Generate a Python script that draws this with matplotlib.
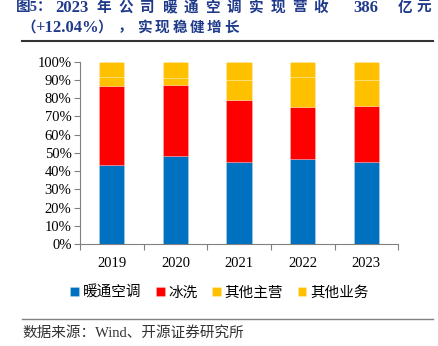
import matplotlib.pyplot as plt
import numpy as np

plt.rcParams['font.family'] = ['Liberation Serif', 'Noto Sans CJK SC']

# 数据 (占比, %)
years = ['2019', '2020', '2021', '2022', '2023']
hvac = [43.6, 48.4, 44.9, 46.7, 45.3]        # 暖通空调
ice_wash = [43.3, 38.6, 34.3, 28.5, 30.4]    # 冰洗
other_main = [4.6, 3.9, 10.6, 16.4, 14.3]    # 其他主营
other_biz = [8.5, 9.1, 10.2, 8.4, 10.0]      # 其他业务

series = [hvac, ice_wash, other_main, other_biz]
names = ['暖通空调', '冰洗', '其他主营', '其他业务']
colors = ['#0070C0', '#FF0000', '#FFC000', '#FFC000']

W, H = 439, 346
fig = plt.figure(figsize=(W / 100, H / 100), dpi=100)
ax = fig.add_axes([0.182, 0.294, 0.725, 0.528])

x = np.arange(len(years))
bottom = np.zeros(len(years))
for vals, name, c in zip(series, names, colors):
    ax.bar(x, vals, 0.4, bottom=bottom, color=c, label=name,
           edgecolor=(1, 1, 1, 0.3), linewidth=0.5)
    bottom += np.array(vals)

ax.set_xlim(-0.5, len(years) - 0.5)
ax.set_ylim(0, 100)
ax.set_yticks(np.arange(0, 101, 10))
ax.set_yticklabels([f'{v}%' for v in range(0, 101, 10)])

# 刻度在类别之间，标签在中间
ax.set_xticks(np.arange(-0.5, len(years), 1))
ax.set_xticklabels([])
ax.set_xticks(x, minor=True)
ax.set_xticklabels(years, minor=True)
ax.tick_params(axis='x', which='minor', length=0, pad=9, labelsize=10.5)
ax.tick_params(axis='x', which='major', length=4, color='#808080')
ax.tick_params(axis='y', length=4, color='#808080', labelsize=10.5, pad=2)

for s in ['top', 'right']:
    ax.spines[s].set_visible(False)
for s in ['left', 'bottom']:
    ax.spines[s].set_color('#808080')

leg = ax.legend(loc='center', ncol=4, frameon=False, fontsize=10.5,
                handlelength=0.6, handleheight=0.6, handletextpad=0.25,
                columnspacing=1.0)
leg.set_bbox_to_anchor((0.5, 1 - 293 / H), transform=fig.transFigure)

# 标题 (两端对齐，逐字放置)
title_color = '#1F3A8A'
line1 = ['图5：', '2023'] + list('年公司暖通空调实现营收') + ['386', '亿', '元']
cx1 = [34, 72] + [104 + 21.7 * i for i in range(11)] + [366, 405, 424]
line2 = ['（', '+12.04%', '）', '，'] + list('实现稳健增长')
cx2 = [29, 67, 105, 125] + [145 + 17.3 * i for i in range(6)]
for toks, cxs, cy in [(line1, cx1, 8), (line2, cx2, 28)]:
    for t, c in zip(toks, cxs):
        fs = 12 if t.isascii() else 10.5
        fig.text(c / W, 1 - cy / H, t, fontsize=fs, fontweight='bold',
                 color=title_color, va='center', ha='center')

fig.add_artist(plt.Line2D([22 / W, 433 / W], [1 - 41 / H, 1 - 41 / H],
                          color='#333333', linewidth=1.5))

# 来源
fig.add_artist(plt.Line2D([22 / W, 433 / W], [1 - 319 / H, 1 - 319 / H],
                          color='#808080', linewidth=1))
fig.text(22 / W, 1 - 333 / H, '数据来源：Wind、开源证券研究所',
         fontsize=10.5, color='#333333', va='center', ha='left')

fig.savefig('out.png', dpi=100)
